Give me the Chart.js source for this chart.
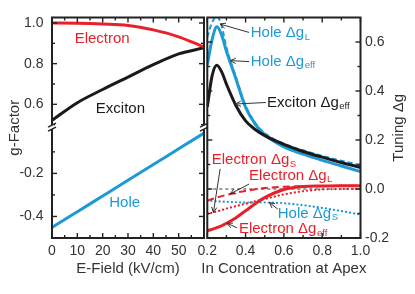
<!DOCTYPE html>
<html><head><meta charset="utf-8">
<script src="https://cdn.jsdelivr.net/npm/chart.js@4.4.0/dist/chart.umd.min.js"></script>
<style>
html,body{margin:0;padding:0;background:#fff;width:415px;height:294px;overflow:hidden;}
canvas{position:absolute;top:0;}
#c1{left:0;} #c2{left:180px;}
</style></head><body>
<canvas id="c1" width="215" height="294"></canvas>
<canvas id="c2" width="235" height="294"></canvas>
<script>
// ---------- data: left panel (g-factor vs E-field) ----------
const eField    = [0, 10, 20, 30, 40, 50, 60];
const electronG = [1.000, 0.999, 0.995, 0.988, 0.966, 0.932, 0.882];
const excitonG  = [0.521, 0.608, 0.673, 0.734, 0.795, 0.848, 0.878];
const holeG     = [-0.451, -0.378, -0.305, -0.232, -0.159, -0.086, -0.013];

// ---------- data: right panel (tuning vs In concentration) ----------
const inConc      = [0.2, 0.225, 0.25, 0.275, 0.3, 0.35, 0.4, 0.45, 0.5, 0.6, 0.7, 0.8, 0.9, 1.0];
const holeEff     = [0.507, 0.610, 0.662, 0.628, 0.562, 0.448, 0.333, 0.265, 0.222, 0.172, 0.142, 0.117, 0.094, 0.071];
const holeL       = [0.620, 0.680, 0.705, 0.665, 0.578, 0.456, 0.340, 0.270, 0.228, 0.185, 0.158, 0.135, 0.115, 0.098];
const excitonEff  = [0.335, 0.462, 0.505, 0.478, 0.428, 0.340, 0.278, 0.243, 0.218, 0.182, 0.153, 0.130, 0.108, 0.088];
const electronEff = [-0.170, -0.165, -0.158, -0.150, -0.140, -0.117, -0.089, -0.060, -0.035, -0.002, 0.010, 0.012, 0.013, 0.013];
const electronL   = [-0.048, -0.041, -0.035, -0.029, -0.024, -0.015, -0.008, -0.001, 0.004, 0.009, 0.011, 0.012, 0.013, 0.013];
const electronS   = [-0.103, -0.097, -0.092, -0.086, -0.080, -0.070, -0.060, -0.050, -0.041, -0.022, -0.009, -0.002, 0.000, 0.001];
const holeS       = [-0.048, -0.049, -0.050, -0.051, -0.052, -0.054, -0.055, -0.055, -0.055, -0.058, -0.066, -0.077, -0.090, -0.104];
const zeroX = [0.2, 1.0];
const zeroY = [0, 0];

// ---------- ticks ----------
const xTicksLeft   = [0, 10, 20, 30, 40, 50];
const xMajorLeft   = [10, 20, 30, 40, 50];
const xMinorLeft   = [5, 15, 25, 35, 45, 55];
const yTopTicks    = [0.6, 0.8, 1.0];
const yTopMinor    = [0.5, 0.7, 0.9];
const yBotTicks    = [-0.4, -0.2];
const yBotMinor    = [-0.3, -0.1];
const xTicksRight  = [0.2, 0.4, 0.6, 0.8, 1.0];
const xMinorRight  = [0.3, 0.5, 0.7, 0.9];
const yRightTicks  = [-0.2, 0.0, 0.2, 0.4, 0.6];
const yRightMinor  = [-0.1, 0.1, 0.3, 0.5];

const RED = '#e8202a', BLUE = '#1c9ad6', BLACK = '#1a1a1a', AXIS = '#222', TXT = '#333';
const FONT = '"Liberation Sans", Arial, Helvetica, sans-serif';

function pts(xs, ys) { return xs.map((x, i) => ({x: x, y: ys[i]})); }
function line(label, xs, ys, color, extra) {
  return Object.assign({label: label, data: pts(xs, ys), borderColor: color, backgroundColor: color,
    borderWidth: 3, pointRadius: 0, fill: false, cubicInterpolationMode: 'monotone'}, extra || {});
}
function setTicks(arr) { return function (s) { s.ticks = arr.map(v => ({value: v})); }; }

function drawLabel(ctx, x, y, main, sub, color, align) {
  ctx.textBaseline = 'middle'; ctx.textAlign = 'left';
  ctx.font = '15px ' + FONT;
  const w1 = ctx.measureText(main).width;
  ctx.font = '9.5px ' + FONT;
  const w2 = sub ? ctx.measureText(sub).width : 0;
  let x0 = align === 'center' ? x - (w1 + w2) / 2 : x;
  ctx.fillStyle = color;
  ctx.font = '15px ' + FONT; ctx.fillText(main, x0, y);
  if (sub) { ctx.font = '9.5px ' + FONT; ctx.fillText(sub, x0 + w1 + 0.5, y + 4); }
}
function arrow(ctx, x1, y1, x2, y2) {
  ctx.strokeStyle = '#333'; ctx.lineWidth = 1;
  ctx.beginPath(); ctx.moveTo(x1, y1); ctx.lineTo(x2, y2); ctx.stroke();
  const ang = Math.atan2(y2 - y1, x2 - x1), L = 6, s = 0.45;
  ctx.beginPath();
  ctx.moveTo(x2 - L * Math.cos(ang - s), y2 - L * Math.sin(ang - s));
  ctx.lineTo(x2, y2);
  ctx.lineTo(x2 - L * Math.cos(ang + s), y2 - L * Math.sin(ang + s));
  ctx.stroke();
}

const framePlugin = {
  id: 'frame',
  afterDraw(chart, args, o) {
    const ctx = chart.ctx, a = chart.chartArea;
    ctx.save();
    const seg = (x1, y1, x2, y2) => { ctx.beginPath(); ctx.moveTo(x1, y1); ctx.lineTo(x2, y2); ctx.stroke(); };
    ctx.strokeStyle = AXIS; ctx.lineWidth = 1.4;
    const xs = chart.scales.x;
    [[o.xMajor, 5], [o.xMinor, 3]].forEach(([vals, len]) => vals.forEach(v => {
      const px = xs.getPixelForValue(v);
      seg(px, a.bottom, px, a.bottom - len); seg(px, a.top, px, a.top + len);
    }));
    o.yAxes.forEach(ax => {
      const s = chart.scales[ax.id];
      [[ax.major, 5], [ax.minor, 3]].forEach(([vals, len]) => vals.forEach(v => {
        const py = s.getPixelForValue(v);
        seg(a.left, py, a.left + len, py); seg(a.right, py, a.right - len, py);
      }));
    });
    ctx.lineWidth = 2; ctx.strokeStyle = AXIS;
    ctx.strokeRect(a.left, a.top, a.right - a.left, a.bottom - a.top);
    if (o.breakAxis) {
      const yb = chart.scales[o.breakAxis].bottom;
      [a.left, a.right].forEach(xb => {
        ctx.fillStyle = '#fff'; ctx.fillRect(xb - 2, yb - 2, 4, 4);
        ctx.strokeStyle = AXIS; ctx.lineWidth = 1.3;
        [-2, 2].forEach(d => seg(xb - 4, yb + d + 2, xb + 4, yb + d - 2));
      });
    }
    // axis titles
    ctx.fillStyle = TXT; ctx.font = '15px ' + FONT; ctx.textAlign = 'center'; ctx.textBaseline = 'middle';
    ctx.fillText(o.xTitle, (a.left + a.right) / 2, a.bottom + 30.5);
    ctx.save();
    const tx = o.yTitleSide === 'left' ? a.left - 37 : a.right + 38.5;
    ctx.translate(tx, (a.top + a.bottom) / 2); ctx.rotate(-Math.PI / 2);
    ctx.fillText(o.yTitle, 0, 0);
    ctx.restore();
    // annotations
    (o.notes || []).forEach(n => {
      const ys = chart.scales[n.axis];
      if (n.tail) arrow(ctx, xs.getPixelForValue(n.tail[0]), ys.getPixelForValue(n.tail[1]),
                        xs.getPixelForValue(n.head[0]), ys.getPixelForValue(n.head[1]));
      drawLabel(ctx, xs.getPixelForValue(n.x), ys.getPixelForValue(n.y), n.text, n.sub, n.color, n.align);
    });
    ctx.restore();
  }
};

const tickFont = {family: FONT, size: 14};
const hideGrid = {display: false, drawTicks: false};

// ---------- left chart ----------
new Chart(document.getElementById('c1'), {
  type: 'line',
  data: {datasets: [
    line('Electron', eField, electronG, RED, {yAxisID: 'yTop'}),
    line('Exciton', eField, excitonG, BLACK, {yAxisID: 'yTop'}),
    line('Hole', eField, holeG, BLUE, {yAxisID: 'yBot'})
  ]},
  options: {
    responsive: false, animation: false, events: [],
    layout: {padding: {top: 17.5, right: 11, left: 0, bottom: 0}},
    plugins: {
      legend: {display: false}, tooltip: {enabled: false},
      frame: {
        xMajor: xMajorLeft, xMinor: xMinorLeft,
        yAxes: [{id: 'yTop', major: yTopTicks, minor: yTopMinor}, {id: 'yBot', major: yBotTicks, minor: yBotMinor}],
        breakAxis: 'yTop', xTitle: 'E-Field (kV/cm)', yTitle: 'g-Factor', yTitleSide: 'left',
        notes: [
          {axis: 'yTop', x: 19.8, y: 0.924, text: 'Electron', color: RED, align: 'center'},
          {axis: 'yTop', x: 27.0, y: 0.579, text: 'Exciton', color: BLACK, align: 'center'},
          {axis: 'yBot', x: 28.7, y: -0.338, text: 'Hole', color: BLUE, align: 'center'}
        ]
      }
    },
    scales: {
      x: {type: 'linear', min: 0, max: 60, grid: hideGrid, border: {display: false},
          ticks: {font: tickFont, color: TXT, padding: 4.5, maxRotation: 0, autoSkip: false, callback: v => String(v)},
          afterBuildTicks: setTicks(xTicksLeft),
          afterFit: s => { s.height = 56; s.paddingLeft = 0; s.paddingRight = 0; }},
      yTop: {type: 'linear', position: 'left', stack: 'g', stackWeight: 109.7, weight: 1, min: 0.488, max: 1.027,
          grid: hideGrid, border: {display: false},
          ticks: {font: tickFont, color: TXT, padding: 8.5, callback: v => v.toFixed(1)},
          afterBuildTicks: setTicks(yTopTicks),
          afterFit: s => { s.width = 52; s.paddingTop = 0; s.paddingBottom = 0; }},
      yBot: {type: 'linear', position: 'left', stack: 'g', stackWeight: 111, weight: 0, min: -0.5, max: 0.015,
          grid: hideGrid, border: {display: false},
          ticks: {font: tickFont, color: TXT, padding: 8.5, callback: v => v.toFixed(1)},
          afterBuildTicks: setTicks(yBotTicks),
          afterFit: s => { s.width = 52; s.paddingTop = 0; s.paddingBottom = 0; }}
    }
  },
  plugins: [framePlugin]
});

// ---------- right chart ----------
const dotted = {borderWidth: 2.2, borderDash: [0.1, 4], borderCapStyle: 'round'};
new Chart(document.getElementById('c2'), {
  type: 'line',
  data: {datasets: [
    line('Electron Δg_eff', inConc, electronEff, RED),
    line('Exciton Δg_eff', inConc, excitonEff, BLACK),
    line('Hole Δg_eff', inConc, holeEff, BLUE),
    line('Hole Δg_L', inConc, holeL, BLUE, {borderWidth: 2, borderDash: [5, 3]}),
    line('Electron Δg_L', inConc, electronL, RED, {borderWidth: 2, borderDash: [7, 4]}),
    line('Electron Δg_S', inConc, electronS, RED, dotted),
    line('Hole Δg_S', inConc, holeS, BLUE, dotted),
    line('zero', zeroX, zeroY, '#333', {borderWidth: 1, borderDash: [3, 3]})
  ]},
  options: {
    responsive: false, animation: false, events: [],
    layout: {padding: {top: 17.5, right: 0, left: 27.3, bottom: 0}},
    plugins: {
      legend: {display: false}, tooltip: {enabled: false},
      frame: {
        xMajor: xTicksRight, xMinor: xMinorRight,
        yAxes: [{id: 'y', major: yRightTicks, minor: yRightMinor}],
        xTitle: 'In Concentration at Apex', yTitle: 'Tuning Δg', yTitleSide: 'right',
        notes: [
          {axis: 'y', x: 0.427, y: 0.637, text: 'Hole Δg', sub: 'L', color: BLUE, tail: [0.418, 0.639], head: [0.267, 0.673]},
          {axis: 'y', x: 0.427, y: 0.520, text: 'Hole Δg', sub: 'eff', color: BLUE, tail: [0.418, 0.520], head: [0.320, 0.524]},
          {axis: 'y', x: 0.512, y: 0.353, text: 'Exciton Δg', sub: 'eff', color: BLACK, tail: [0.506, 0.353], head: [0.347, 0.347]},
          {axis: 'y', x: 0.223, y: 0.118, text: 'Electron Δg', sub: 'S', color: RED, tail: [0.267, 0.082], head: [0.232, -0.096]},
          {axis: 'y', x: 0.418, y: 0.054, text: 'Electron Δg', sub: 'L', color: RED, tail: [0.418, 0.020], head: [0.320, -0.020]},
          {axis: 'y', x: 0.568, y: -0.101, text: 'Hole Δg', sub: 'S', color: BLUE, tail: [0.568, -0.082], head: [0.524, -0.055]},
          {axis: 'y', x: 0.365, y: -0.163, text: 'Electron Δg', sub: 'eff', color: RED, tail: [0.355, -0.158], head: [0.303, -0.140]}
        ]
      }
    },
    scales: {
      x: {type: 'linear', min: 0.2, max: 1.0, grid: hideGrid, border: {display: false},
          ticks: {font: tickFont, color: TXT, padding: 4.5, maxRotation: 0, autoSkip: false, callback: v => v.toFixed(1)},
          afterBuildTicks: setTicks(xTicksRight),
          afterFit: s => { s.height = 56; s.paddingLeft = 0; s.paddingRight = 0; }},
      y: {type: 'linear', position: 'right', min: -0.2, max: 0.7, grid: hideGrid, border: {display: false},
          ticks: {font: tickFont, color: TXT, padding: 4.5, callback: v => v.toFixed(1)},
          afterBuildTicks: setTicks(yRightTicks),
          afterFit: s => { s.width = 54.5; s.paddingTop = 0; s.paddingBottom = 0; }}
    }
  },
  plugins: [framePlugin]
});
</script>
</body></html>
